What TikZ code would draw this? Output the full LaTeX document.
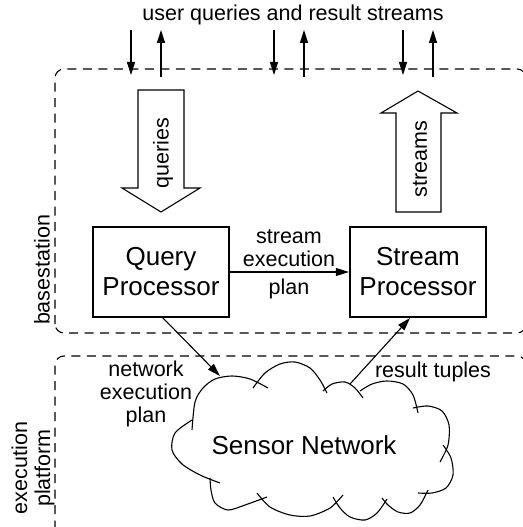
\documentclass[tikz,border=0pt]{standalone}
\usepackage{fontspec}
\setmainfont{Liberation Sans}
\usetikzlibrary{arrows.meta}
\begin{document}
\begin{tikzpicture}[x=1pt,y=-1pt,
  big/.style={font=\fontsize{26}{30}\selectfont},
  small/.style={font=\fontsize{21.5}{23}\selectfont},
  procbox/.style={draw,line width=2.2pt,minimum width=136pt,minimum height=90pt,align=center,big,inner sep=0pt},
  frame/.style={line width=1.1pt,dash pattern=on 9pt off 6.5pt,rounded corners=9pt},
  conn/.style={line width=1.1pt,-{Triangle[length=13pt,width=8pt]}},
  blockarrow/.style={line width=1.1pt,line join=miter},
  cloudline/.style={line width=1.1pt},
  lbl/.style={small,inner sep=0pt,align=center}]
\useasboundingbox (0,0) rectangle (522,527);

% frames
\draw[frame] (55,333) -- (55,69) -- (526,69) -- (526,333) -- cycle;
\draw[frame] (55,545) -- (55,356) -- (526,356) -- (526,545);

% title and io arrows
\node[lbl] (title) at (293,15) {user queries and result streams};
\foreach \x/\n in {131/a,274/b,403/c}{
  \coordinate (top\n) at (\x,30);
  \coordinate (bot\n) at (\x,75);
  \draw[conn] (top\n) -- (bot\n);
}
\foreach \x/\n in {161/a,304/b,433/c}{
  \coordinate (utop\n) at (\x,30);
  \coordinate (ubot\n) at (\x,77);
  \draw[conn] (ubot\n) -- (utop\n);
}

% queries block arrow
\draw[blockarrow] (138,90) -- (184,90) -- (184,188) -- (200,188) -- (161,212) -- (122,188) -- (138,188) -- cycle;
\node[lbl,rotate=90] (qtxt) at (163,153) {queries};

% streams block arrow
\draw[blockarrow] (396,212) -- (441,212) -- (441,113) -- (457,113) -- (418,91) -- (381,113) -- (396,113) -- cycle;
\node[lbl,rotate=90] (stxt) at (420,159) {streams};

% processors
\node[procbox] (qp) at (161,272) {Query\\Processor};
\node[procbox] (sp) at (418,272) {Stream\\Processor};
\draw[conn] (qp.east) -- (sp.west);
\node[lbl,anchor=south] (sep) at (289,267) {stream\\execution};
\node[lbl] (plan) at (289,289) {plan};

% side labels
\node[lbl,rotate=90] (base) at (42,270) {basestation};
\node[lbl,rotate=90] (exec) at (33,468) {execution\\platform};

% cloud
\begin{scope}[cloudline]
\draw plot[smooth] coordinates {(192,430) (195,402) (203,388) (215,379) (232,376) (250,379) (268,388)};
\draw plot[smooth] coordinates {(253,388) (265,373) (280,364) (295,362) (310,368) (320,380) (327,393)};
\draw plot[smooth] coordinates {(323,391) (332,384) (345,382) (355,388) (363,398)};
\draw plot[smooth] coordinates {(360,391) (372,384) (387,381) (403,384) (413,395) (418,413)};
\draw plot[smooth] coordinates {(413,408) (428,406) (442,411) (449,425) (448,445) (440,462)};
\draw plot[smooth] coordinates {(443,445) (451,458) (453,475) (446,488) (432,493) (418,493)};
\draw plot[smooth] coordinates {(428,490) (420,505) (410,513) (398,512) (388,505) (382,498)};
\draw plot[smooth] coordinates {(387,499) (377,513) (365,520) (350,517) (340,508) (333,497)};
\draw plot[smooth] coordinates {(343,495) (330,508) (310,516) (290,515) (270,507) (257,493)};
\draw plot[smooth] coordinates {(267,497) (245,505) (228,510) (215,503) (211,490) (210,478)};
\draw plot[smooth] coordinates {(220,483) (200,475) (182,464) (172,450) (175,433) (192,420)};
\end{scope}
\node[big,inner sep=0pt] (sn) at (304,445) {Sensor Network};
\coordinate (cin) at (220,376);
\coordinate (cout) at (350,384);
\coordinate (qpout) at (162,317);
\coordinate (spin) at (410,318);
\draw[conn] (qpout) -- (cin);
\draw[conn] (cout) -- (spin);

\node[lbl] (nep) at (146,394) {network\\execution\\plan};
\node[lbl] (rt) at (433,372) {result tuples};
\end{tikzpicture}
\end{document}
